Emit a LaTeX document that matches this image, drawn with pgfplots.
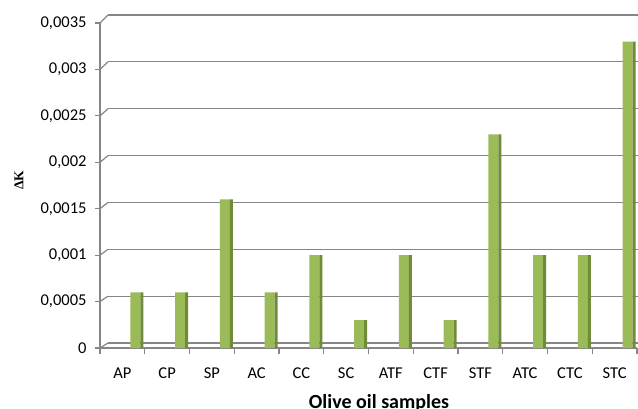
\documentclass[border=0pt]{standalone}
\usepackage{pgfplots}
\pgfplotsset{compat=1.18}
\usepackage{fontspec}
\setmainfont{Carlito}
\newfontfamily\serifb{Liberation Serif}
\definecolor{gridc}{RGB}{134,134,134}
\definecolor{barfront}{RGB}{155,187,89}
\definecolor{barside}{RGB}{113,140,57}
\pgfplotstableread{
x v
0 0.0006
1 0.0006
2 0.0016
3 0.0006
4 0.0010
5 0.0003
6 0.0010
7 0.0003
8 0.0023
9 0.0010
10 0.0010
11 0.0033
}\datatable
\begin{document}
\begin{tikzpicture}
\path[use as bounding box] (-100pt,-60pt) rectangle (538pt,348pt);
% back wall with gridlines
\begin{axis}[
  at={(8pt,5pt)}, anchor=south west,
  scale only axis, width=537pt, height=328pt,
  xmin=-0.5, xmax=11.5, ymin=0, ymax=0.0035,
  scaled y ticks=false,
  ytick={0,0.0005,0.001,0.0015,0.002,0.0025,0.003,0.0035},
  xtick=\empty, yticklabels={},
  major tick length=0pt,
  axis line style={draw=none},
  ymajorgrids, grid style={gridc, line width=1.2pt},
]
\end{axis}
% front axis with bars
\begin{axis}[
  at={(0pt,0pt)}, anchor=south west,
  scale only axis, width=537pt, height=325pt,
  xmin=-0.5, xmax=11.5, ymin=0, ymax=0.0035,
  scaled y ticks=false,
  axis x line*=bottom, axis y line*=left,
  axis line style={gridc, line width=1.2pt},
  ytick={0,0.0005,0.001,0.0015,0.002,0.0025,0.003,0.0035},
  yticklabels={{0},{0,0005},{0,001},{0,0015},{0,002},{0,0025},{0,003},{0,0035}},
  xtick={0,...,11},
  xticklabels={AP,CP,SP,AC,CC,SC,ATF,CTF,STF,ATC,CTC,STC},
  minor xtick={-0.5,0.5,...,11.5},
  tick align=outside,
  major tick length=5pt, minor tick length=6pt,
  x tick style={draw=none},
  minor x tick style={draw=gridc, line width=1.2pt},
  y tick style={draw=gridc, line width=1.2pt},
  tick label style={font=\fontsize{16.5}{18}\selectfont, text=black},
  yticklabel style={xshift=-5pt},
  xticklabel style={yshift=-11pt},
  clip=false,
]
\addplot[ybar, bar width=10pt, bar shift=13pt, fill=barfront, draw=none] table[x=x,y=v] {\datatable};
\addplot[ybar, bar width=3pt, bar shift=19.5pt, fill=barside, draw=none] table[x=x,y=v] {\datatable};
\pgfplotsinvokeforeach{0,0.0005,0.001,0.0015,0.002,0.0025,0.003,0.0035}{
  \draw[gridc, line width=1.2pt] (axis cs:-0.5,#1) -- ++(8pt,{5pt+857.1pt*#1});
}
\end{axis}
\node[font=\bfseries\fontsize{20}{22}\selectfont, anchor=north, inner sep=0pt] at (279pt,-46pt) {Olive oil samples};
\node[font=\serifb\bfseries\fontsize{13.5}{15}\selectfont, rotate=90, inner sep=0pt] at (-81pt,168pt) {ΔK};
\end{tikzpicture}
\end{document}
